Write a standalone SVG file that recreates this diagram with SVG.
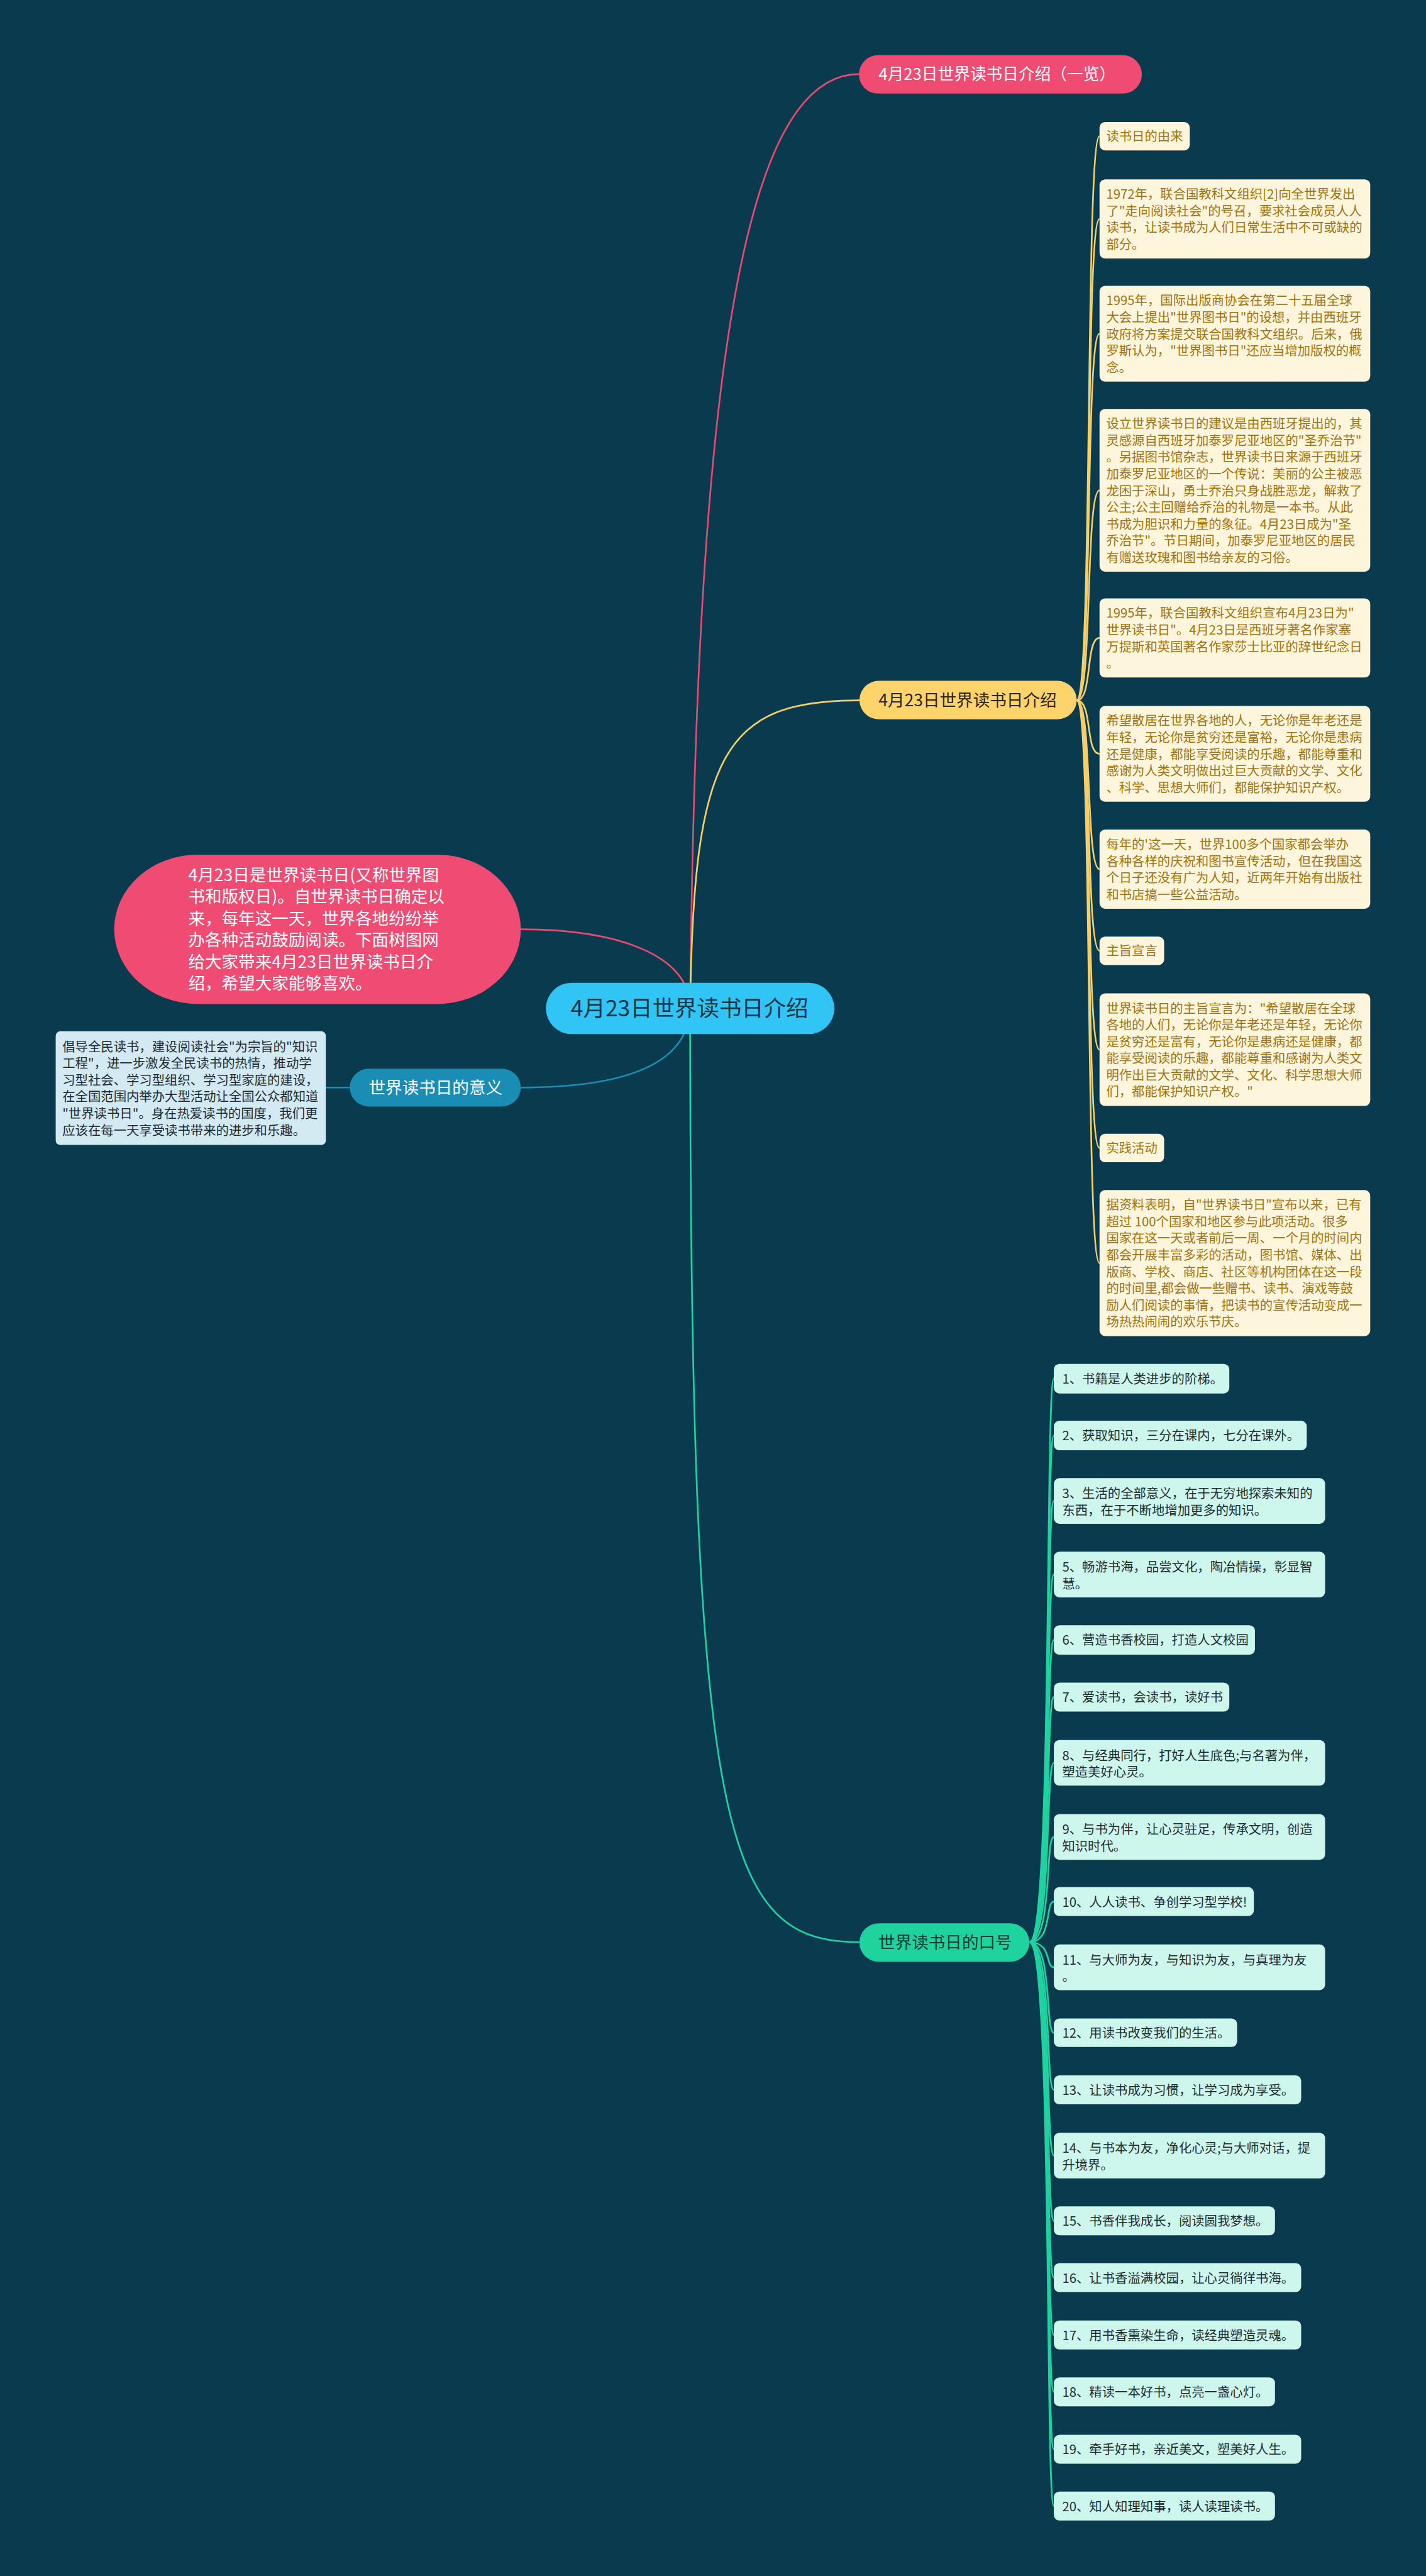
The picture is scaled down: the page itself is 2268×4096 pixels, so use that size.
<svg xmlns="http://www.w3.org/2000/svg" width="2268" height="4096" viewBox="0 0 2268 4096">
<style>
text{font-family:"Noto Sans CJK SC","Noto Sans",sans-serif;}
.yb{fill:#fdf5dc;}
.yt{font-size:23px;fill:#a07410;}
.gb{fill:#cdf6ec;}
.gt{font-size:23px;fill:#1d2c30;}
.yl{fill:none;stroke:#f5cf6a;stroke-width:3;}
.gl{fill:none;stroke:#1fd3a0;stroke-width:3;}
.hd{font-size:30px;text-anchor:middle;}
</style>
<rect width="2268" height="4096" fill="#093a4e"/>
<g transform="scale(0.8859)">
<g id="connectors">
<path d="M1239,1810 C1250,700 1330,133 1542,133" fill="none" stroke="#e84a72" stroke-width="3"/>
<path d="M1239,1810 C1239,1710 1100,1668 935,1668" fill="none" stroke="#e84a72" stroke-width="3"/>
<path d="M1239,1810 C1245,1350 1300,1257 1543,1257" class="yl"/>
<path d="M1239,1810 C1239,3300 1300,3486 1543,3486" class="gl"/>
<path d="M1239,1810 C1235,1920 1100,1952 935,1952" fill="none" stroke="#1a8db5" stroke-width="3"/>
<path d="M628,1952 L585,1952" fill="none" stroke="#1a8db5" stroke-width="3"/>
<path d="M1933,1257 C1962,1257 1948,244.5 1974,244.5" class="yl"/>
<path d="M1933,1257 C1962,1257 1948,393 1974,393" class="yl"/>
<path d="M1933,1257 C1962,1257 1948,599 1974,599" class="yl"/>
<path d="M1933,1257 C1962,1257 1948,880 1974,880" class="yl"/>
<path d="M1933,1257 C1962,1257 1948,1145 1974,1145" class="yl"/>
<path d="M1933,1257 C1962,1257 1948,1353 1974,1353" class="yl"/>
<path d="M1933,1257 C1962,1257 1948,1560 1974,1560" class="yl"/>
<path d="M1933,1257 C1962,1257 1948,1706.5 1974,1706.5" class="yl"/>
<path d="M1933,1257 C1962,1257 1948,1884 1974,1884" class="yl"/>
<path d="M1933,1257 C1962,1257 1948,2060.5 1974,2060.5" class="yl"/>
<path d="M1933,1257 C1962,1257 1948,2267 1974,2267" class="yl"/>
<path d="M1848,3486 C1890,3486 1876,2474.5 1892,2474.5" class="gl"/>
<path d="M1848,3486 C1890,3486 1876,2576.5 1892,2576.5" class="gl"/>
<path d="M1848,3486 C1890,3486 1876,2694 1892,2694" class="gl"/>
<path d="M1848,3486 C1890,3486 1876,2826 1892,2826" class="gl"/>
<path d="M1848,3486 C1890,3486 1876,2943.5 1892,2943.5" class="gl"/>
<path d="M1848,3486 C1890,3486 1876,3046 1892,3046" class="gl"/>
<path d="M1848,3486 C1890,3486 1876,3164 1892,3164" class="gl"/>
<path d="M1848,3486 C1890,3486 1876,3297 1892,3297" class="gl"/>
<path d="M1848,3486 C1890,3486 1876,3413 1892,3413" class="gl"/>
<path d="M1848,3486 C1890,3486 1876,3531 1892,3531" class="gl"/>
<path d="M1848,3486 C1890,3486 1876,3648.5 1892,3648.5" class="gl"/>
<path d="M1848,3486 C1890,3486 1876,3751 1892,3751" class="gl"/>
<path d="M1848,3486 C1890,3486 1876,3869 1892,3869" class="gl"/>
<path d="M1848,3486 C1890,3486 1876,3986 1892,3986" class="gl"/>
<path d="M1848,3486 C1890,3486 1876,4088 1892,4088" class="gl"/>
<path d="M1848,3486 C1890,3486 1876,4191 1892,4191" class="gl"/>
<path d="M1848,3486 C1890,3486 1876,4293 1892,4293" class="gl"/>
<path d="M1848,3486 C1890,3486 1876,4396 1892,4396" class="gl"/>
<path d="M1848,3486 C1890,3486 1876,4498 1892,4498" class="gl"/>
</g>

<g id="root">
<rect x="980" y="1764" width="518" height="92" rx="46" fill="#30c5f5"/>
<text x="1238" y="1824" font-size="40" text-anchor="middle" fill="#0e3547">4月23日世界读书日介绍</text>
</g>

<g id="pink-heading">
<rect x="1542" y="99" width="508" height="69" rx="34.5" fill="#ef4b73"/>
<text x="1790" y="143" font-size="29" text-anchor="middle" fill="#ffffff">4月23日世界读书日介绍（一览）</text>
</g>

<g id="pink-desc">
<rect x="205" y="1534" width="730" height="268" rx="150" ry="134" fill="#ef4b73"/>
<text font-size="30" fill="#ffffff">
<tspan x="338" y="1581">4月23日是世界读书日(又称世界图</tspan>
<tspan x="338" y="1620">书和版权日)。自世界读书日确定以</tspan>
<tspan x="338" y="1659">来，每年这一天，世界各地纷纷举</tspan>
<tspan x="338" y="1698">办各种活动鼓励阅读。下面树图网</tspan>
<tspan x="338" y="1737">给大家带来4月23日世界读书日介</tspan>
<tspan x="338" y="1776">绍，希望大家能够喜欢。</tspan>
</text>
</g>

<g id="meaning">
<rect x="628" y="1918" width="307" height="68" rx="34" fill="#1a8db5"/>
<text x="782" y="1963" class="hd" fill="#ffffff">世界读书日的意义</text>
</g>

<g id="meaning-text">
<rect x="100" y="1851" width="485" height="204" rx="8" fill="#d3eaf3"/>
<text font-size="23" fill="#1e2b31">
<tspan x="112" y="1887">倡导全民读书，建设阅读社会"为宗旨的"知识</tspan>
<tspan x="112" y="1917">工程"，进一步激发全民读书的热情，推动学</tspan>
<tspan x="112" y="1947">习型社会、学习型组织、学习型家庭的建设，</tspan>
<tspan x="112" y="1977">在全国范围内举办大型活动让全国公众都知道</tspan>
<tspan x="112" y="2007">"世界读书日"。身在热爱读书的国度，我们更</tspan>
<tspan x="112" y="2037">应该在每一天享受读书带来的进步和乐趣。</tspan>
</text>
</g>

<g id="yellow-heading">
<rect x="1543" y="1222" width="390" height="69" rx="34.5" fill="#fdd36c"/>
<text x="1737" y="1268" class="hd" fill="#2a2412">4月23日世界读书日介绍</text>
</g>

<g id="y1"><rect class="yb" x="1974" y="219" width="162" height="51" rx="10"/>
<text class="yt" x="1986" y="253">读书日的由来</text></g>

<g id="y2"><rect class="yb" x="1974" y="322" width="486" height="142" rx="10"/>
<text class="yt"><tspan x="1986" y="357">1972年，联合国教科文组织[2]向全世界发出</tspan><tspan x="1986" y="387">了"走向阅读社会"的号召，要求社会成员人人</tspan><tspan x="1986" y="417">读书，让读书成为人们日常生活中不可或缺的</tspan><tspan x="1986" y="447">部分。</tspan></text></g>

<g id="y3"><rect class="yb" x="1974" y="513" width="486" height="172" rx="10"/>
<text class="yt"><tspan x="1986" y="548">1995年，国际出版商协会在第二十五届全球</tspan><tspan x="1986" y="578">大会上提出"世界图书日"的设想，并由西班牙</tspan><tspan x="1986" y="608">政府将方案提交联合国教科文组织。后来，俄</tspan><tspan x="1986" y="638">罗斯认为，"世界图书日"还应当增加版权的概</tspan><tspan x="1986" y="668">念。</tspan></text></g>

<g id="y4"><rect class="yb" x="1974" y="734" width="486" height="292" rx="10"/>
<text class="yt"><tspan x="1986" y="769">设立世界读书日的建议是由西班牙提出的，其</tspan><tspan x="1986" y="799">灵感源自西班牙加泰罗尼亚地区的"圣乔治节"</tspan><tspan x="1986" y="829">。另据图书馆杂志，世界读书日来源于西班牙</tspan><tspan x="1986" y="859">加泰罗尼亚地区的一个传说：美丽的公主被恶</tspan><tspan x="1986" y="889">龙困于深山，勇士乔治只身战胜恶龙，解救了</tspan><tspan x="1986" y="919">公主;公主回赠给乔治的礼物是一本书。从此</tspan><tspan x="1986" y="949">书成为胆识和力量的象征。4月23日成为"圣</tspan><tspan x="1986" y="979">乔治节"。节日期间，加泰罗尼亚地区的居民</tspan><tspan x="1986" y="1009">有赠送玫瑰和图书给亲友的习俗。</tspan></text></g>

<g id="y5"><rect class="yb" x="1974" y="1074" width="486" height="142" rx="10"/>
<text class="yt"><tspan x="1986" y="1109">1995年，联合国教科文组织宣布4月23日为"</tspan><tspan x="1986" y="1139">世界读书日"。4月23日是西班牙著名作家塞</tspan><tspan x="1986" y="1169">万提斯和英国著名作家莎士比亚的辞世纪念日</tspan><tspan x="1986" y="1199">。</tspan></text></g>

<g id="y6"><rect class="yb" x="1974" y="1267" width="486" height="172" rx="10"/>
<text class="yt"><tspan x="1986" y="1302">希望散居在世界各地的人，无论你是年老还是</tspan><tspan x="1986" y="1332">年轻，无论你是贫穷还是富裕，无论你是患病</tspan><tspan x="1986" y="1362">还是健康，都能享受阅读的乐趣，都能尊重和</tspan><tspan x="1986" y="1392">感谢为人类文明做出过巨大贡献的文学、文化</tspan><tspan x="1986" y="1422">、科学、思想大师们，都能保护知识产权。</tspan></text></g>

<g id="y7"><rect class="yb" x="1974" y="1489" width="486" height="142" rx="10"/>
<text class="yt"><tspan x="1986" y="1524">每年的'这一天，世界100多个国家都会举办</tspan><tspan x="1986" y="1554">各种各样的庆祝和图书宣传活动，但在我国这</tspan><tspan x="1986" y="1584">个日子还没有广为人知，近两年开始有出版社</tspan><tspan x="1986" y="1614">和书店搞一些公益活动。</tspan></text></g>

<g id="y8"><rect class="yb" x="1974" y="1681" width="116" height="51" rx="10"/>
<text class="yt" x="1986" y="1715">主旨宣言</text></g>

<g id="y9"><rect class="yb" x="1974" y="1783" width="486" height="202" rx="10"/>
<text class="yt"><tspan x="1986" y="1818">世界读书日的主旨宣言为："希望散居在全球</tspan><tspan x="1986" y="1848">各地的人们，无论你是年老还是年轻，无论你</tspan><tspan x="1986" y="1878">是贫穷还是富有，无论你是患病还是健康，都</tspan><tspan x="1986" y="1908">能享受阅读的乐趣，都能尊重和感谢为人类文</tspan><tspan x="1986" y="1938">明作出巨大贡献的文学、文化、科学思想大师</tspan><tspan x="1986" y="1968">们，都能保护知识产权。"</tspan></text></g>

<g id="y10"><rect class="yb" x="1974" y="2035" width="116" height="51" rx="10"/>
<text class="yt" x="1986" y="2069">实践活动</text></g>

<g id="y11"><rect class="yb" x="1974" y="2136" width="486" height="262" rx="10"/>
<text class="yt"><tspan x="1986" y="2171">据资料表明，自"世界读书日"宣布以来，已有</tspan><tspan x="1986" y="2201">超过 100个国家和地区参与此项活动。很多</tspan><tspan x="1986" y="2231">国家在这一天或者前后一周、一个月的时间内</tspan><tspan x="1986" y="2261">都会开展丰富多彩的活动，图书馆、媒体、出</tspan><tspan x="1986" y="2291">版商、学校、商店、社区等机构团体在这一段</tspan><tspan x="1986" y="2321">的时间里,都会做一些赠书、读书、演戏等鼓</tspan><tspan x="1986" y="2351">励人们阅读的事情，把读书的宣传活动变成一</tspan><tspan x="1986" y="2381">场热热闹闹的欢乐节庆。</tspan></text></g>

<g id="green-heading">
<rect x="1543" y="3452" width="305" height="69" rx="34.5" fill="#1fd39f"/>
<text x="1697" y="3497" class="hd" fill="#173a35">世界读书日的口号</text>
</g>

<g id="g1"><rect class="gb" x="1892" y="2448" width="315" height="53" rx="10"/><text class="gt" x="1907" y="2483">1、书籍是人类进步的阶梯。</text></g>
<g id="g2"><rect class="gb" x="1892" y="2550" width="454" height="53" rx="10"/><text class="gt" x="1907" y="2585">2、获取知识，三分在课内，七分在课外。</text></g>
<g id="g3"><rect class="gb" x="1892" y="2653" width="487" height="82" rx="10"/><text class="gt"><tspan x="1907" y="2689">3、生活的全部意义，在于无穷地探索未知的</tspan><tspan x="1907" y="2719">东西，在于不断地增加更多的知识。</tspan></text></g>
<g id="g5"><rect class="gb" x="1892" y="2785" width="487" height="82" rx="10"/><text class="gt"><tspan x="1907" y="2821">5、畅游书海，品尝文化，陶冶情操，彰显智</tspan><tspan x="1907" y="2851">慧。</tspan></text></g>
<g id="g6"><rect class="gb" x="1892" y="2917" width="361" height="53" rx="10"/><text class="gt" x="1907" y="2952">6、营造书香校园，打造人文校园</text></g>
<g id="g7"><rect class="gb" x="1892" y="3020" width="315" height="52" rx="10"/><text class="gt" x="1907" y="3055">7、爱读书，会读书，读好书</text></g>
<g id="g8"><rect class="gb" x="1892" y="3123" width="487" height="82" rx="10"/><text class="gt"><tspan x="1907" y="3159">8、与经典同行，打好人生底色;与名著为伴，</tspan><tspan x="1907" y="3189">塑造美好心灵。</tspan></text></g>
<g id="g9"><rect class="gb" x="1892" y="3256" width="487" height="82" rx="10"/><text class="gt"><tspan x="1907" y="3292">9、与书为伴，让心灵驻足，传承文明，创造</tspan><tspan x="1907" y="3322">知识时代。</tspan></text></g>
<g id="g10"><rect class="gb" x="1892" y="3387" width="359" height="52" rx="10"/><text class="gt" x="1907" y="3422">10、人人读书、争创学习型学校!</text></g>
<g id="g11"><rect class="gb" x="1892" y="3490" width="487" height="82" rx="10"/><text class="gt"><tspan x="1907" y="3526">11、与大师为友，与知识为友，与真理为友</tspan><tspan x="1907" y="3556">。</tspan></text></g>
<g id="g12"><rect class="gb" x="1892" y="3623" width="329" height="51" rx="10"/><text class="gt" x="1907" y="3657">12、用读书改变我们的生活。</text></g>
<g id="g13"><rect class="gb" x="1892" y="3725" width="444" height="52" rx="10"/><text class="gt" x="1907" y="3760">13、让读书成为习惯，让学习成为享受。</text></g>
<g id="g14"><rect class="gb" x="1892" y="3828" width="487" height="82" rx="10"/><text class="gt"><tspan x="1907" y="3864">14、与书本为友，净化心灵;与大师对话，提</tspan><tspan x="1907" y="3894">升境界。</tspan></text></g>
<g id="g15"><rect class="gb" x="1892" y="3960" width="397" height="52" rx="10"/><text class="gt" x="1907" y="3995">15、书香伴我成长，阅读圆我梦想。</text></g>
<g id="g16"><rect class="gb" x="1892" y="4062" width="444" height="52" rx="10"/><text class="gt" x="1907" y="4097">16、让书香溢满校园，让心灵徜徉书海。</text></g>
<g id="g17"><rect class="gb" x="1892" y="4165" width="444" height="52" rx="10"/><text class="gt" x="1907" y="4200">17、用书香熏染生命，读经典塑造灵魂。</text></g>
<g id="g18"><rect class="gb" x="1892" y="4267" width="397" height="52" rx="10"/><text class="gt" x="1907" y="4302">18、精读一本好书，点亮一盏心灯。</text></g>
<g id="g19"><rect class="gb" x="1892" y="4370" width="444" height="52" rx="10"/><text class="gt" x="1907" y="4405">19、牵手好书，亲近美文，塑美好人生。</text></g>
<g id="g20"><rect class="gb" x="1892" y="4472" width="397" height="52" rx="10"/><text class="gt" x="1907" y="4507">20、知人知理知事，读人读理读书。</text></g>
</g>
</svg>
